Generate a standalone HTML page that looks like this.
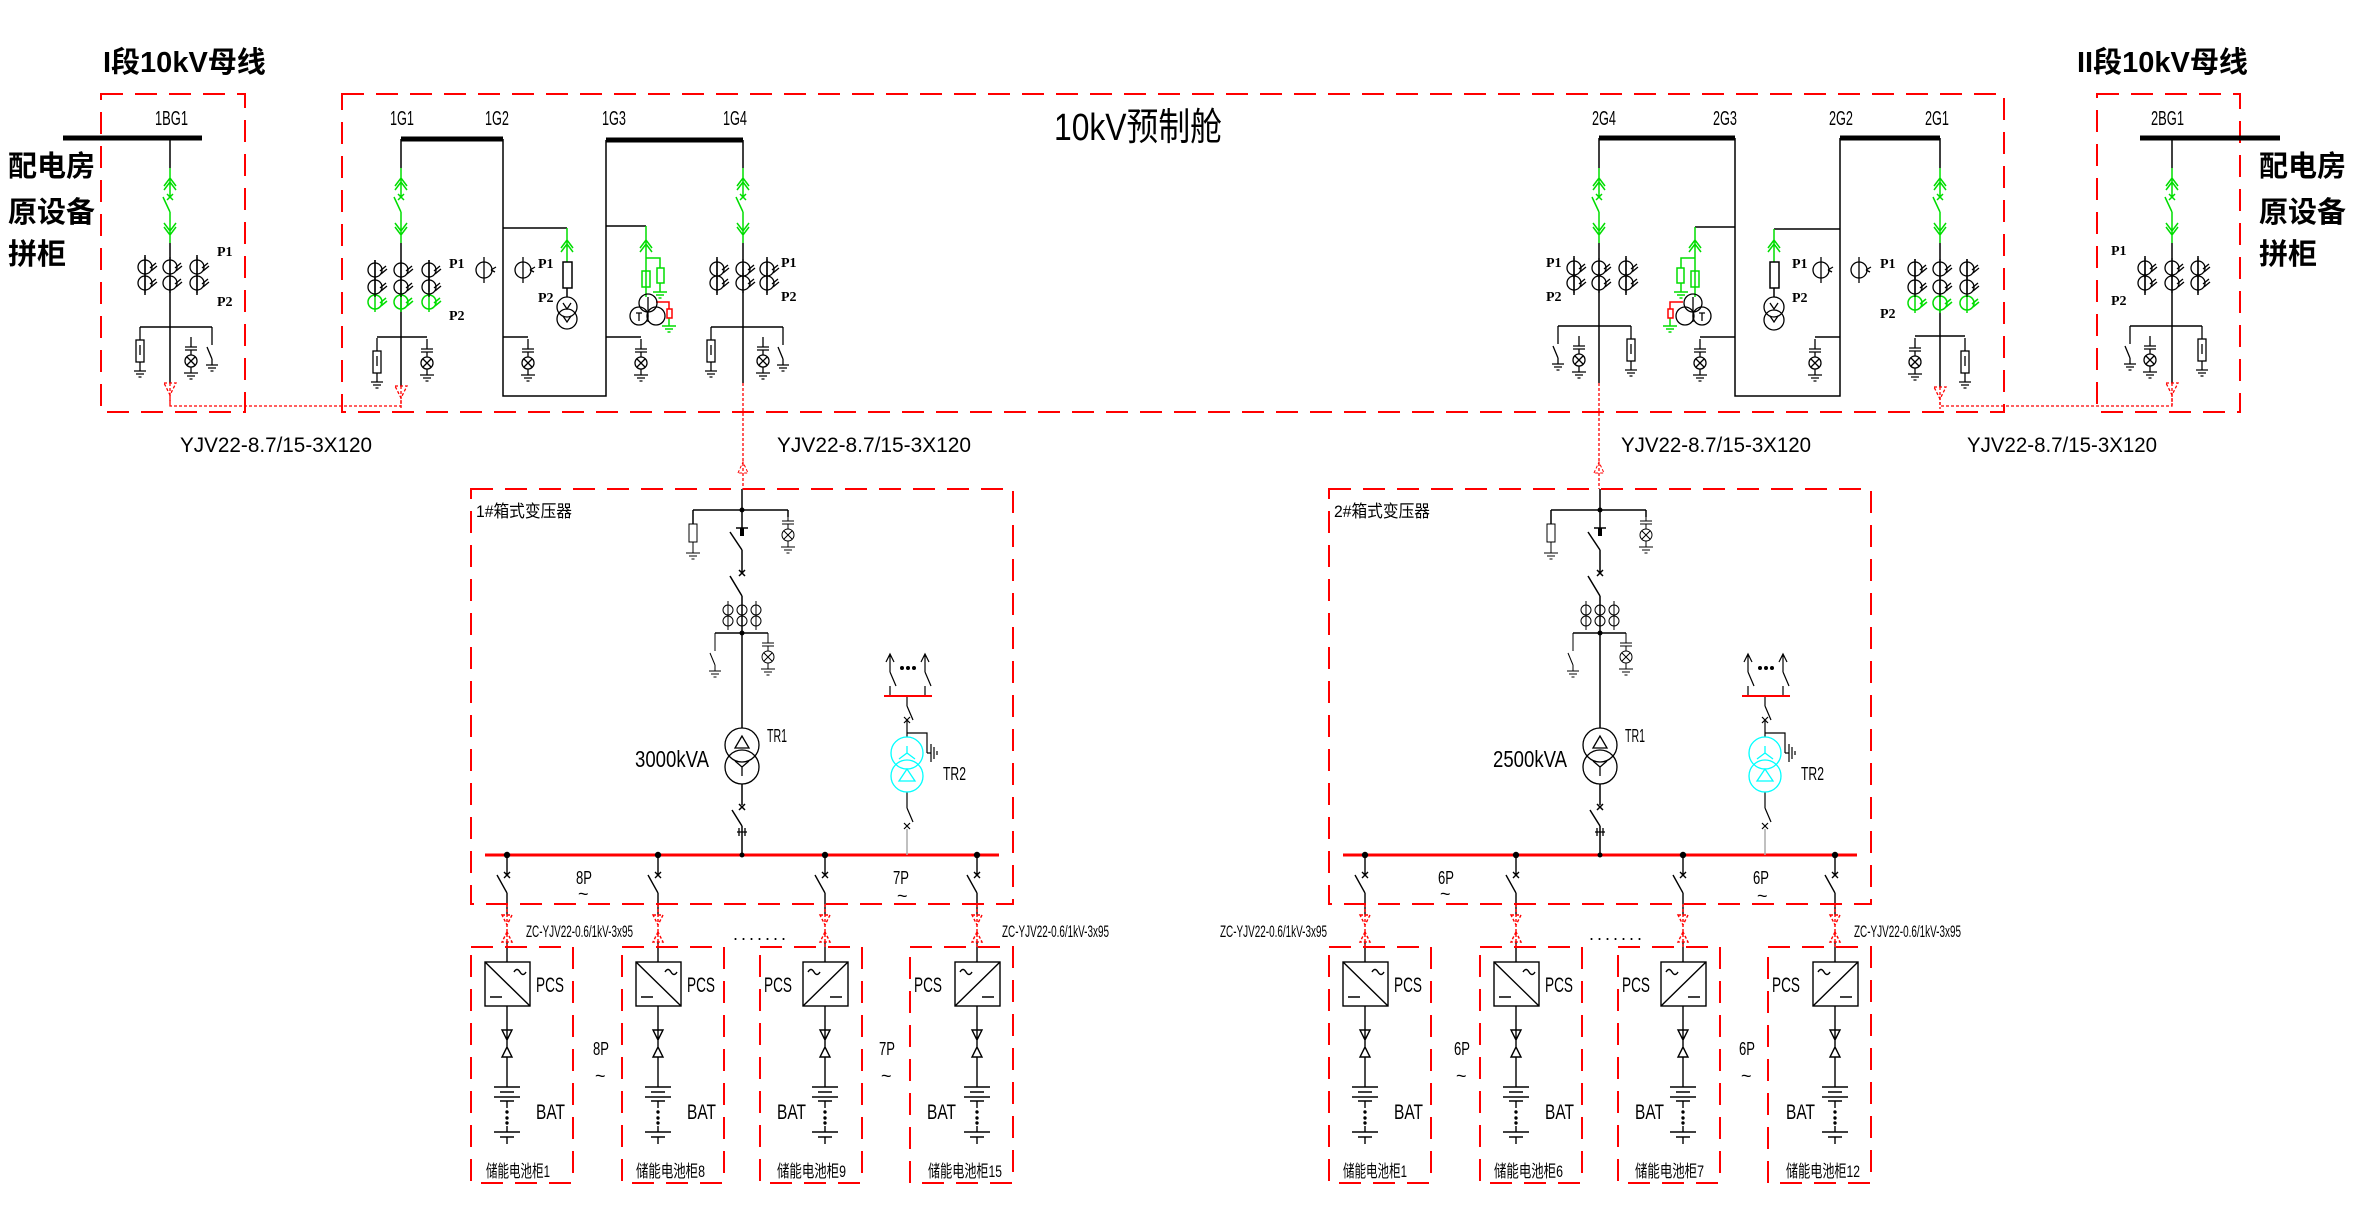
<!DOCTYPE html>
<html><head><meta charset="utf-8"><style>
html,body{margin:0;padding:0;background:#fff;}
svg{display:block;}
.t{font-family:"Liberation Sans Narrow","Liberation Sans",sans-serif;fill:#000;}
.c{font-family:"Liberation Sans","Noto Sans CJK SC",sans-serif;fill:#000;}
</style></head><body>
<svg width="2357" height="1216" viewBox="0 0 2357 1216" xmlns="http://www.w3.org/2000/svg">
<defs>
<g id="gnd"><path d="M-7,0H7 M-4,3H4 M-1.5,6H1.5"/></g>
<g id="gsw"><path d="M0,0V29 M-3,26l6,6 M3,26l-6,6 M-7,29L0,44 M0,44V75 M-6,18L0,10L6,18 M-6,22L0,14L6,22 M-6,55L0,63L6,55 M-6,59L0,67L6,59"/></g>
<g id="ct"><circle r="7" fill="none"/><path d="M5,1l6,-5 M6,4l6,-5 M0,-10V10"/></g>
<g id="lamp"><path d="M0,-24V-14 M-6,-14H6 M-6,-11H6 M0,-11V-6 M0,6V12 M-4,-4L4,4 M4,-4L-4,4 M-7,12H7 M-4,15H4 M-1.5,18H1.5"/><circle r="6" fill="none"/></g>
<g id="arr"><rect x="-4" y="-11" width="8" height="22" fill="none"/><path d="M0,-24V-11 M0,-6V4 M0,11V20 M-6,20H6 M-4,23H4 M-1.5,26H1.5"/></g>
<g id="esw"><path d="M0,0V18 M-5,20L0,32 M0,32V38 M-6,38H6 M-4,41H4 M-1.5,44H1.5"/></g>
<g id="phi"><circle r="8" fill="none"/><path d="M0,-13V13 M7,0l5,-3 M7,0l4,2"/></g>
<g id="redarr"><path d="M-6,0H6L0,12Z M0,0V22" fill="none" stroke="#f00" stroke-dasharray="3,2"/></g>
<g id="bat"><path d="M0,1057V1087 M-13,1087H13 M-7,1092H7 M-13,1097H13 M-7,1101H7 M0,1101V1108 M0,1126V1132 M-13,1132H13 M-7,1137H7 M0,1137V1144 M-5,1030H5L0,1040Z M0,1047L-5,1057H5Z M0,1006V1047" fill="none"/><circle cx="0" cy="1112" r="1"/><circle cx="0" cy="1118" r="1"/><circle cx="0" cy="1123" r="1"/></g>
<g id="fdtop"><path d="M0,855V875 M-3,872l6,6 M3,872l-6,6 M-10,875L0,893 M0,893V915 M0,942V962" fill="none"/><path d="M0,904V947 M-5,915H5L0,925Z M0,932L-5,942H5Z" fill="none" stroke="#f00" stroke-dasharray="3,2"/><circle cx="0" cy="855" r="2.5"/></g>
<g id="pcsA" fill="none"><rect x="-22" y="962" width="45" height="44"/><path d="M-22,962L23,1006 M-17,997H-5 M7,972q3,-5 6,0q3,5 6,0"/></g>
<g id="pcsB" fill="none"><rect x="-22" y="962" width="45" height="44"/><path d="M-22,1006L23,962 M5,997H17 M-17,972q3,-5 6,0q3,5 6,0"/></g>
<g id="tbox">
 <path d="M742,489V528 M736,528H748 M693,510H788 M693,510V524 M788,510V517 M730,532L742,550 M742,550V573 M739,570l6,6 M745,570l-6,6 M730,576L742,596 M742,596V633 M715,633H768 M742,633V728 M742,784V805 M739,804l6,6 M745,804l-6,6 M732,810L742,826 M742,826V855" fill="none" stroke="#000" stroke-width="1.5"/>
 <circle cx="742" cy="510" r="2.5"/><circle cx="742" cy="633" r="2.5"/>
 <rect x="689" y="524" width="8" height="18" fill="none" stroke="#000"/><rect x="740" y="528" width="4" height="8" fill="#000"/>
 <path d="M693,542V553" stroke="#000"/><use href="#gnd" x="693" y="553" stroke="#000"/>
 <use href="#lamp" x="788" y="535" stroke="#000"/>
 <g stroke="#000" fill="none"><circle cx="728" cy="610" r="5"/><circle cx="728" cy="621" r="5"/><circle cx="742" cy="610" r="5"/><circle cx="742" cy="621" r="5"/><circle cx="756" cy="610" r="5"/><circle cx="756" cy="621" r="5"/><path d="M728,601V630 M756,601V630"/></g>
 <use href="#esw" x="715" y="633" stroke="#000"/>
 <use href="#lamp" x="768" y="657" stroke="#000"/>
 <g stroke="#000" fill="none" stroke-width="1.3"><circle cx="742" cy="745" r="17"/><circle cx="742" cy="767" r="17"/><path d="M742,736L735,748H749Z M742,767V776 M742,767L735,761 M742,767L749,761"/>
 <path d="M737,832h10 M739,828v8 M745,828v8"/></g>
 <path d="M485,855H999" stroke="#f00" stroke-width="3"/><circle cx="742" cy="855" r="2.5"/>
 <g stroke="#000" fill="none" stroke-width="1.2"><path d="M890,654V672 M886,662L890,654L894,662 M890,672L896,686 M890,686V696 M925,654V672 M921,662L925,654L929,662 M925,672L931,686 M925,686V696 M907,696V706 M907,706L913,720 M904,717l6,6 M910,717l-6,6 M907,720V737 M907,733H927V753 M927,753H931 M931,744V762 M934,747V759 M937,751V755 M907,792V808 M907,808L913,822 M904,823l6,6 M910,823l-6,6"/></g>
 <circle cx="902" cy="668" r="2"/><circle cx="908" cy="668" r="2"/><circle cx="914" cy="668" r="2"/>
 <path d="M884,696H932" stroke="#f00" stroke-width="2"/>
 <g stroke="#0ff" fill="none" stroke-width="1.3"><circle cx="907" cy="753" r="16"/><circle cx="907" cy="776" r="16"/><path d="M907,746V753 M907,753L899,759 M907,753L915,759 M907,769L899,781H915Z"/></g>
 <path d="M907,829V855" stroke="#aaa" stroke-width="1.5"/>
 <g stroke="#000" stroke-width="1.4"><use href="#fdtop" x="507"/><use href="#fdtop" x="658"/><use href="#fdtop" x="825"/><use href="#fdtop" x="977"/>
 <use href="#pcsA" x="507"/><use href="#pcsA" x="658"/><use href="#pcsB" x="825"/><use href="#pcsB" x="977"/>
 <use href="#bat" x="507"/><use href="#bat" x="658"/><use href="#bat" x="825"/><use href="#bat" x="977"/></g>
 <g fill="none" stroke="#f00" stroke-width="2" stroke-dasharray="22,12">
 <rect x="471" y="489" width="542" height="415"/>
 <rect x="471" y="947" width="102" height="236"/><rect x="622" y="947" width="102" height="236"/><rect x="760" y="947" width="102" height="236"/><rect x="910" y="947" width="103" height="236"/></g>
</g>
</defs>

<g fill="none" stroke="#f00" stroke-width="2" stroke-dasharray="22,12">
<rect x="101" y="94" width="144" height="318"/>
<rect x="342" y="94" width="1662" height="318"/>
<rect x="2097" y="94" width="143" height="318"/>
</g>
<g stroke="#000" stroke-width="5">
<path d="M63,138H202 M401,139H503 M606,140H743 M1599,138H1735 M1840,138H1940 M2140,138H2280"/>
</g>
<g stroke="#000" stroke-width="1.5" fill="none">
<path d="M170,138V168 M170,243V383 M140,327H212 M145,255V295 M197,255V295"/>
<path d="M401,139V168 M401,243V386 M377,337H427 M375,260V292 M429,260V292"/>
<path d="M503,139V396H606V140 M503,228H567 M503,337H528 M567,288V297"/>
<path d="M606,226H646 M606,337H641"/>
<path d="M743,140V168 M743,243V383 M711,327H783 M717,257V295 M767,257V295"/>
<path d="M1599,138V168 M1599,243V383 M1558,326H1631 M1574,256V295 M1626,256V295"/>
<path d="M1735,138V396H1840V138 M1735,227H1695 M1735,337H1700 M1840,229H1774 M1840,337H1815 M1774,288V297"/>
<path d="M1940,138V168 M1940,243V387 M1915,336H1965 M1915,259V293 M1967,259V293"/>
<path d="M2172,138V168 M2172,243V383 M2130,326H2202 M2145,256V295 M2198,256V295"/>
</g>
<g stroke="#00dd00" stroke-width="1.5" fill="none">
<use href="#gsw" x="170" y="168"/><use href="#gsw" x="401" y="168"/><use href="#gsw" x="743" y="168"/>
<use href="#gsw" x="1599" y="168"/><use href="#gsw" x="1940" y="168"/><use href="#gsw" x="2172" y="168"/>
<path d="M567,228V262 M561,248L567,240L573,248 M561,252L567,244L573,252"/>
<path d="M646,226V297 M640,248L646,240L652,248 M640,252L646,244L652,252 M646,258H660V268 M660,283V292 M1695,227V297 M1689,248L1695,240L1701,248 M1689,252L1695,244L1701,252 M1695,258H1681V268 M1681,283V292 M1774,229V262 M1768,248L1774,240L1780,248 M1768,252L1774,244L1780,252"/>
<rect x="563" y="262" width="9" height="26" stroke="#000"/><rect x="1770" y="262" width="9" height="26" stroke="#000"/>
<rect x="642" y="271" width="8" height="16"/><rect x="657" y="268" width="7" height="15"/><rect x="1691" y="271" width="8" height="16"/><rect x="1677" y="268" width="7" height="15"/>
<use href="#gnd" x="660" y="292"/><use href="#gnd" x="1681" y="292"/><use href="#gnd" x="669" y="326"/><use href="#gnd" x="1670" y="326"/>
<path d="M669,318V326 M1670,318V326"/>
<use href="#ct" x="375" y="302"/><use href="#ct" x="401" y="302"/><use href="#ct" x="429" y="302"/>
<use href="#ct" x="1915" y="303"/><use href="#ct" x="1940" y="303"/><use href="#ct" x="1967" y="303"/>
</g>
<g stroke="#f00" stroke-width="1.5" fill="none"><path d="M656,302H669V309 M1683,302H1670V309"/><rect x="667" y="309" width="5" height="9"/><rect x="1668" y="309" width="5" height="9"/></g>
<g stroke="#000" stroke-width="1.3" fill="none">
<use href="#ct" x="145" y="267"/><use href="#ct" x="170" y="267"/><use href="#ct" x="197" y="267"/>
<use href="#ct" x="145" y="283"/><use href="#ct" x="170" y="283"/><use href="#ct" x="197" y="283"/>
<use href="#ct" x="375" y="270"/><use href="#ct" x="401" y="270"/><use href="#ct" x="429" y="270"/>
<use href="#ct" x="375" y="287"/><use href="#ct" x="401" y="287"/><use href="#ct" x="429" y="287"/>
<use href="#ct" x="717" y="269"/><use href="#ct" x="743" y="269"/><use href="#ct" x="767" y="269"/>
<use href="#ct" x="717" y="283"/><use href="#ct" x="743" y="283"/><use href="#ct" x="767" y="283"/>
<use href="#ct" x="1574" y="268"/><use href="#ct" x="1599" y="268"/><use href="#ct" x="1626" y="268"/>
<use href="#ct" x="1574" y="283"/><use href="#ct" x="1599" y="283"/><use href="#ct" x="1626" y="283"/>
<use href="#ct" x="1915" y="269"/><use href="#ct" x="1940" y="269"/><use href="#ct" x="1967" y="269"/>
<use href="#ct" x="1915" y="287"/><use href="#ct" x="1940" y="287"/><use href="#ct" x="1967" y="287"/>
<use href="#ct" x="2145" y="268"/><use href="#ct" x="2172" y="268"/><use href="#ct" x="2198" y="268"/>
<use href="#ct" x="2145" y="283"/><use href="#ct" x="2172" y="283"/><use href="#ct" x="2198" y="283"/>
<use href="#phi" x="484" y="270"/><use href="#phi" x="523" y="270"/><use href="#phi" x="1821" y="270"/><use href="#phi" x="1859" y="270"/>
<use href="#arr" x="140" y="351"/><use href="#lamp" x="191" y="361"/><use href="#esw" x="212" y="327"/>
<use href="#arr" x="377" y="362"/><use href="#lamp" x="427" y="363"/>
<use href="#lamp" x="528" y="363"/><use href="#lamp" x="641" y="363"/>
<use href="#arr" x="711" y="351"/><use href="#lamp" x="763" y="361"/><use href="#esw" x="783" y="327"/>
<use href="#esw" x="1558" y="326"/><use href="#lamp" x="1579" y="360"/><use href="#arr" x="1631" y="350"/>
<use href="#lamp" x="1700" y="363"/><use href="#lamp" x="1815" y="363"/>
<use href="#lamp" x="1915" y="362"/><use href="#arr" x="1965" y="362"/>
<use href="#esw" x="2130" y="326"/><use href="#lamp" x="2150" y="360"/><use href="#arr" x="2202" y="350"/>
<circle cx="567" cy="307" r="10"/><circle cx="567" cy="319" r="10"/>
<circle cx="1774" cy="307" r="10"/><circle cx="1774" cy="320" r="10"/>
<path d="M563,303l4,6l4,-6 M563,316l4,6l4,-6 M1770,303l4,6l4,-6 M1770,316l4,6l4,-6"/>
<circle cx="648" cy="303" r="9"/><circle cx="639" cy="316" r="9"/><circle cx="656" cy="316" r="9"/>
<circle cx="1693" cy="303" r="9"/><circle cx="1702" cy="316" r="9"/><circle cx="1685" cy="316" r="9"/>
<path d="M648,297V322 M1693,297V322 M636,313h6 M639,313v8 M1699,313h6 M1702,313v8"/>
</g>
<g stroke="#f00" stroke-width="1.3" fill="none" stroke-dasharray="3,2">
<path d="M170,395V406H401V397 M1940,397V406H2172V393 M743,383V489 M1599,383V489"/>
</g>
<g stroke-width="1.3"><use href="#redarr" x="170" y="383"/><use href="#redarr" x="401" y="386"/><use href="#redarr" x="1940" y="387"/><use href="#redarr" x="2172" y="383"/></g>
<path d="M738,473L743,462L748,473Z M1594,473L1599,462L1604,473Z" fill="none" stroke="#f00" stroke-dasharray="3,2"/>

<use href="#tbox"/>
<use href="#tbox" x="858"/>

<g class="c" font-weight="bold" font-size="29">
<text x="103" y="72">I段10kV母线</text>
<text x="2077" y="72">II段10kV母线</text>
<text x="8" y="176">配电房</text><text x="8" y="222">原设备</text><text x="8" y="264">拼柜</text>
<text x="2259" y="176">配电房</text><text x="2259" y="222">原设备</text><text x="2259" y="264">拼柜</text>
</g>
<text class="t" x="1054" y="140" font-size="38" fill="#555" textLength="168" lengthAdjust="spacingAndGlyphs">10kV预制舱</text>
<g class="t" font-size="20">
<text x="155" y="125" textLength="33" lengthAdjust="spacingAndGlyphs">1BG1</text>
<text x="390" y="125" textLength="24" lengthAdjust="spacingAndGlyphs">1G1</text>
<text x="485" y="125" textLength="24" lengthAdjust="spacingAndGlyphs">1G2</text>
<text x="602" y="125" textLength="24" lengthAdjust="spacingAndGlyphs">1G3</text>
<text x="723" y="125" textLength="24" lengthAdjust="spacingAndGlyphs">1G4</text>
<text x="1592" y="125" textLength="24" lengthAdjust="spacingAndGlyphs">2G4</text>
<text x="1713" y="125" textLength="24" lengthAdjust="spacingAndGlyphs">2G3</text>
<text x="1829" y="125" textLength="24" lengthAdjust="spacingAndGlyphs">2G2</text>
<text x="1925" y="125" textLength="24" lengthAdjust="spacingAndGlyphs">2G1</text>
<text x="2151" y="125" textLength="33" lengthAdjust="spacingAndGlyphs">2BG1</text>
</g>
<g font-family="Liberation Serif,serif" font-weight="bold" font-size="14">
<text x="217" y="256">P1</text><text x="217" y="306">P2</text>
<text x="449" y="268">P1</text><text x="449" y="320">P2</text>
<text x="538" y="268">P1</text><text x="538" y="302">P2</text>
<text x="781" y="267">P1</text><text x="781" y="301">P2</text>
<text x="1546" y="267">P1</text><text x="1546" y="301">P2</text>
<text x="1792" y="268">P1</text><text x="1792" y="302">P2</text>
<text x="1880" y="268">P1</text><text x="1880" y="318">P2</text>
<text x="2111" y="255">P1</text><text x="2111" y="305">P2</text>
</g>
<g class="t" font-size="21" fill="#222">
<text x="180" y="452" textLength="192" lengthAdjust="spacingAndGlyphs">YJV22-8.7/15-3X120</text>
<text x="777" y="452" textLength="194" lengthAdjust="spacingAndGlyphs">YJV22-8.7/15-3X120</text>
<text x="1621" y="452" textLength="190" lengthAdjust="spacingAndGlyphs">YJV22-8.7/15-3X120</text>
<text x="1967" y="452" textLength="190" lengthAdjust="spacingAndGlyphs">YJV22-8.7/15-3X120</text>
</g>
<g class="c" font-size="17">
<text x="476" y="517" textLength="96" lengthAdjust="spacingAndGlyphs">1#箱式变压器</text>
<text x="1334" y="517" textLength="96" lengthAdjust="spacingAndGlyphs">2#箱式变压器</text>
</g>
<g class="t" font-size="23">
<text x="635" y="767" textLength="74" lengthAdjust="spacingAndGlyphs">3000kVA</text>
<text x="1493" y="767" textLength="74" lengthAdjust="spacingAndGlyphs">2500kVA</text>
</g>
<g class="t" font-size="18">
<text x="767" y="742" textLength="20" lengthAdjust="spacingAndGlyphs">TR1</text>
<text x="943" y="780" textLength="23" lengthAdjust="spacingAndGlyphs">TR2</text>
<text x="1625" y="742" textLength="20" lengthAdjust="spacingAndGlyphs">TR1</text>
<text x="1801" y="780" textLength="23" lengthAdjust="spacingAndGlyphs">TR2</text>
<text x="576" y="884" textLength="16" lengthAdjust="spacingAndGlyphs">8P</text><text x="578" y="900">~</text>
<text x="893" y="884" textLength="16" lengthAdjust="spacingAndGlyphs">7P</text><text x="897" y="902">~</text>
<text x="1438" y="884" textLength="16" lengthAdjust="spacingAndGlyphs">6P</text><text x="1440" y="900">~</text>
<text x="1753" y="884" textLength="16" lengthAdjust="spacingAndGlyphs">6P</text><text x="1757" y="902">~</text>
<text x="593" y="1055" textLength="16" lengthAdjust="spacingAndGlyphs">8P</text><text x="595" y="1082">~</text>
<text x="879" y="1055" textLength="16" lengthAdjust="spacingAndGlyphs">7P</text><text x="881" y="1082">~</text>
<text x="1454" y="1055" textLength="16" lengthAdjust="spacingAndGlyphs">6P</text><text x="1456" y="1082">~</text>
<text x="1739" y="1055" textLength="16" lengthAdjust="spacingAndGlyphs">6P</text><text x="1741" y="1082">~</text>
<text x="733" y="940" letter-spacing="3">.......</text><text x="1589" y="940" letter-spacing="3">.......</text>
</g>
<g class="t" font-size="17">
<text x="526" y="937" textLength="107" lengthAdjust="spacingAndGlyphs">ZC-YJV22-0.6/1kV-3x95</text>
<text x="1002" y="937" textLength="107" lengthAdjust="spacingAndGlyphs">ZC-YJV22-0.6/1kV-3x95</text>
<text x="1220" y="937" textLength="107" lengthAdjust="spacingAndGlyphs">ZC-YJV22-0.6/1kV-3x95</text>
<text x="1854" y="937" textLength="107" lengthAdjust="spacingAndGlyphs">ZC-YJV22-0.6/1kV-3x95</text>
</g>
<g class="t" font-size="21">
<text x="536" y="992" textLength="28" lengthAdjust="spacingAndGlyphs">PCS</text>
<text x="687" y="992" textLength="28" lengthAdjust="spacingAndGlyphs">PCS</text>
<text x="764" y="992" textLength="28" lengthAdjust="spacingAndGlyphs">PCS</text>
<text x="914" y="992" textLength="28" lengthAdjust="spacingAndGlyphs">PCS</text>
<text x="536" y="1119" textLength="29" lengthAdjust="spacingAndGlyphs">BAT</text>
<text x="687" y="1119" textLength="29" lengthAdjust="spacingAndGlyphs">BAT</text>
<text x="777" y="1119" textLength="29" lengthAdjust="spacingAndGlyphs">BAT</text>
<text x="927" y="1119" textLength="29" lengthAdjust="spacingAndGlyphs">BAT</text>
<text x="1394" y="992" textLength="28" lengthAdjust="spacingAndGlyphs">PCS</text>
<text x="1545" y="992" textLength="28" lengthAdjust="spacingAndGlyphs">PCS</text>
<text x="1622" y="992" textLength="28" lengthAdjust="spacingAndGlyphs">PCS</text>
<text x="1772" y="992" textLength="28" lengthAdjust="spacingAndGlyphs">PCS</text>
<text x="1394" y="1119" textLength="29" lengthAdjust="spacingAndGlyphs">BAT</text>
<text x="1545" y="1119" textLength="29" lengthAdjust="spacingAndGlyphs">BAT</text>
<text x="1635" y="1119" textLength="29" lengthAdjust="spacingAndGlyphs">BAT</text>
<text x="1786" y="1119" textLength="29" lengthAdjust="spacingAndGlyphs">BAT</text>
</g>
<g class="c" font-size="17">
<text x="486" y="1177" textLength="64" lengthAdjust="spacingAndGlyphs">储能电池柜1</text>
<text x="636" y="1177" textLength="69" lengthAdjust="spacingAndGlyphs">储能电池柜8</text>
<text x="777" y="1177" textLength="69" lengthAdjust="spacingAndGlyphs">储能电池柜9</text>
<text x="928" y="1177" textLength="74" lengthAdjust="spacingAndGlyphs">储能电池柜15</text>
<text x="1343" y="1177" textLength="64" lengthAdjust="spacingAndGlyphs">储能电池柜1</text>
<text x="1494" y="1177" textLength="69" lengthAdjust="spacingAndGlyphs">储能电池柜6</text>
<text x="1635" y="1177" textLength="69" lengthAdjust="spacingAndGlyphs">储能电池柜7</text>
<text x="1786" y="1177" textLength="74" lengthAdjust="spacingAndGlyphs">储能电池柜12</text>
</g>
</svg>
</body></html>
